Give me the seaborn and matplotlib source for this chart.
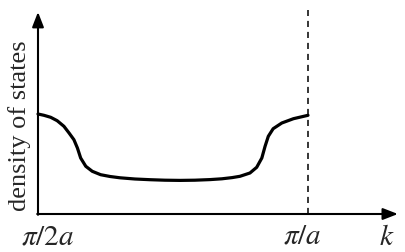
import matplotlib
matplotlib.use("Agg")
import matplotlib.pyplot as plt
import seaborn as sns
import pandas as pd

# data: k measured from pi/2a (0) to pi/a (1), density of states (arbitrary units)
k_vals = [0.000, 0.022, 0.047, 0.071, 0.096, 0.115, 0.133, 0.146, 0.158, 0.177,
          0.201, 0.232, 0.267, 0.304, 0.359, 0.415, 0.470, 0.526, 0.581, 0.637,
          0.681, 0.719, 0.748, 0.785, 0.810, 0.829, 0.841, 0.853, 0.871, 0.903,
          0.946, 1.000]
dos_vals = [1.000, 0.987, 0.967, 0.933, 0.877, 0.810, 0.743, 0.660, 0.560, 0.477,
            0.427, 0.393, 0.375, 0.362, 0.350, 0.343, 0.338, 0.336, 0.338, 0.344,
            0.352, 0.364, 0.377, 0.410, 0.467, 0.560, 0.677, 0.777, 0.853, 0.910,
            0.953, 0.987]
tick_positions = [0.0, 1.0]
tick_labels = [r"$\pi/2a$", r"$\pi/a$"]
x_axis_label = r"$k$"
y_axis_label = "density of states"

sns.set_style("white")
plt.rcParams["font.family"] = ["Liberation Serif", "DejaVu Serif"]
plt.rcParams["mathtext.fontset"] = "stix"

W, H = 406, 252
fig = plt.figure(figsize=(W / 100, H / 100), dpi=100)
ax = fig.add_axes([0, 0, 1, 1])
# pixel mapping: x px = 38 + 270*x ; y px = 214 - 100*y
ax.set_xlim(-38 / 270, (W - 38) / 270)
ax.set_ylim((214 - H) / 100, 214 / 100)
ax.axis("off")

df = pd.DataFrame({"k": k_vals, "dos": dos_vals})
sns.lineplot(data=df, x="k", y="dos", ax=ax, color="black", linewidth=2.3,
             sort=False, estimator=None, solid_joinstyle="round",
             solid_capstyle="round")

# dashed line at pi/a
ax.plot([tick_positions[1], tick_positions[1]], [0, 2.04], color="black",
        linewidth=1.1, linestyle=(0, (4, 3.2)))

# axes with arrows
arrow = dict(arrowstyle="-|>,head_length=0.9,head_width=0.35", color="black",
             linewidth=1.5, shrinkA=0, shrinkB=0)
ax.annotate("", xy=(0, 2.02), xytext=(0, -0.008), arrowprops=arrow)
ax.annotate("", xy=(1.333, 0), xytext=(-0.003, 0), arrowprops=arrow)

# tick labels
ax.text(tick_positions[0] + 0.035, -0.305, tick_labels[0], fontsize=21,
        ha="center", va="baseline")
ax.text(tick_positions[1] - 0.022, -0.29, tick_labels[1], fontsize=21,
        ha="center", va="baseline")
ax.text(1.29, -0.31, x_axis_label, fontsize=21, ha="center", va="baseline")
ax.text(-0.070, 0.88, y_axis_label, fontsize=19, rotation=90,
        ha="center", va="center", family="Liberation Serif")

fig.savefig("out.png", dpi=100, facecolor="white")
